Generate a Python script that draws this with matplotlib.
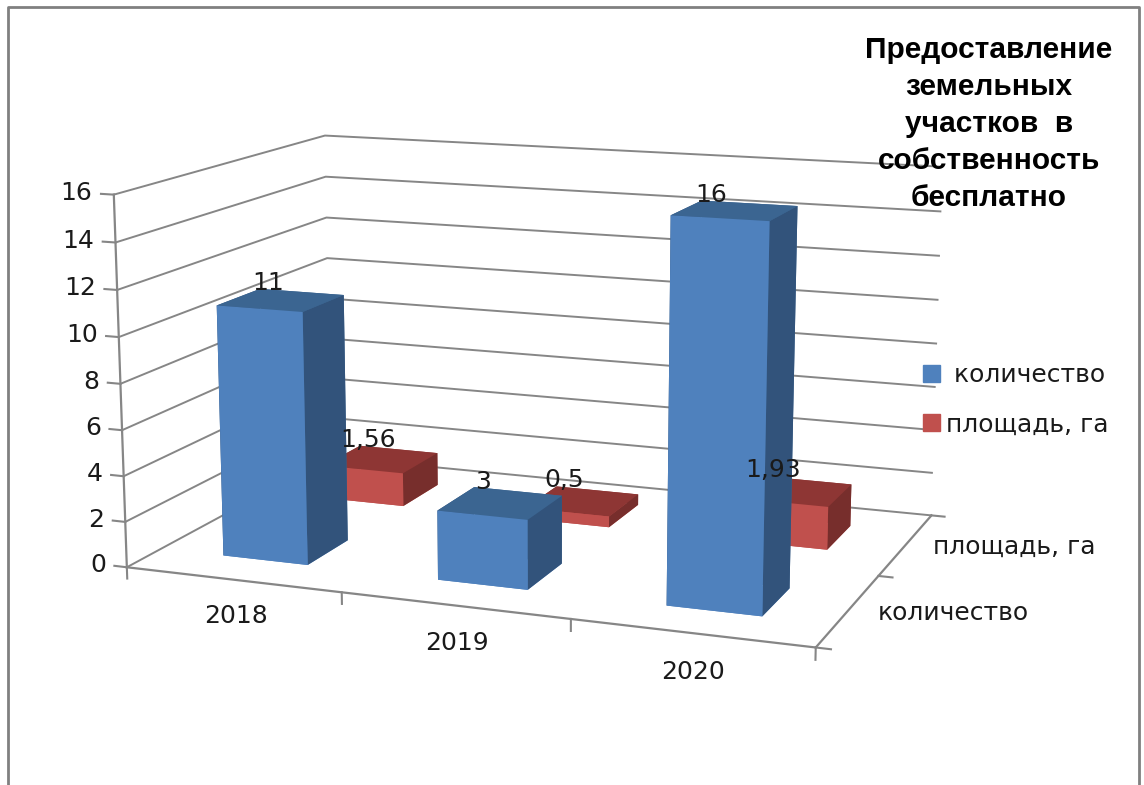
import numpy as np
import matplotlib
matplotlib.use('Agg')
import matplotlib.pyplot as plt
from matplotlib.lines import Line2D
from matplotlib.patches import Patch

years = ['2018', '2019', '2020']
series = ['количество', 'площадь, га']
kolichestvo = [11, 3, 16]
ploshad = [1.56, 0.5, 1.93]
labels_kol = ['11', '3', '16']
labels_pl = ['1,56', '0,5', '1,93']
zticks = [0, 2, 4, 6, 8, 10, 12, 14, 16]
title = 'Предоставление\nземельных\nучастков  в\nсобственность\nбесплатно'

GRAY = '#868686'
TXT = '#1a1a1a'
FS = 18
W, H = 1144, 785
plt.rcParams['font.family'] = ['DejaVu Sans']
fig = plt.figure(figsize=(W/100, H/100), dpi=100)
size = 888
cx, cy = 531, 375
ax = fig.add_axes([(cx-size/2)/W, (H-cy-size/2)/H, size/W, size/H], projection='3d')
ax.patch.set_alpha(0)
ax.set_proj_type('persp', focal_length=0.55)
ax.view_init(elev=12.3, azim=-69.2)
ax.set_box_aspect((1, 0.67, 0.53))

# faces: bottom, top, front, back, left, right
blue = ['#4F81BD', '#3B6591', '#4F81BD', '#3B6591', '#32537B', '#32537B']
red = ['#C0504D', '#8E3634', '#C0504D', '#8E3634', '#772E2C', '#772E2C']
xs, ys, dz, cols = [], [], [], []
for i in range(3):
    xs += [i+0.3, i+0.3]
    ys += [0.3, 1.3]
    dz += [kolichestvo[i], ploshad[i]]
    cols += blue + red
ax.bar3d(xs, ys, np.zeros(6), 0.4, 0.4, dz, color=cols, shade=False, linewidth=0, edgecolor='none')

ax.set_xlim(0, 3, view_margin=0)
ax.set_ylim(0, 2, view_margin=0)
ax.set_zlim(0, 16, view_margin=0)
ax.set_xticks([])
ax.set_yticks([])
ax.set_zticks(zticks)
ax.zaxis.set_ticks_position('lower')
ax.zaxis.set_tick_params(label1On=False, label2On=False)

for a in (ax.xaxis, ax.yaxis, ax.zaxis):
    a.set_pane_color((1, 1, 1, 0))
    a.pane.set_edgecolor((1, 1, 1, 0))
    a.line.set_color(GRAY)
    a.line.set_linewidth(1.6)
    a._axinfo['tick']['inward_factor'] = 0
    a._axinfo['tick']['outward_factor'] = 0
    a._axinfo['grid']['color'] = GRAY
    a._axinfo['grid']['linewidth'] = 1.4
    # пустые подписи осей не нужны
    a.label.set_visible(False)
    a.offsetText.set_visible(False)
    for t in a.get_major_ticks():
        t.label1.set_visible(False)
        t.label2.set_visible(False)

# засечки как в excel: вниз по x, вбок по y и z
for i in range(4):
    ax.plot([i, i], [0, 0], [0, -0.5], color=GRAY, lw=1.5)
for j in range(3):
    ax.plot([3, 3.06], [j, j], [0, 0], color=GRAY, lw=1.5)
for z in zticks:
    ax.plot([0, -0.06], [0, 0], [z, z], color=GRAY, lw=1.5)
    ax.text(-0.1, 0, z, str(z), fontsize=FS, ha='right', va='center', color=TXT)

for i in range(3):
    ax.text(i+0.51, 0, -1.6, years[i], fontsize=FS, ha='center', va='center', color=TXT)
    ax.text(i+0.34, 0.7, kolichestvo[i]-0.25, labels_kol[i], fontsize=FS, ha='center', va='bottom', color=TXT, zorder=50)
    ax.text(i+0.34, 1.7, ploshad[i]-0.25, labels_pl[i], fontsize=FS, ha='center', va='bottom', color=TXT, zorder=50)
for j in range(2):
    ax.text(3.12, j+0.5, 0, series[j], fontsize=FS, ha='left', va='center', color=TXT)

fig.text(989/W, 1-124/H, title, fontfamily='Liberation Sans', fontweight='bold', fontsize=21.5,
         ha='center', va='center', linespacing=1.4, color='black')

handles = [Patch(color='#4F81BD'), Patch(color='#C0504D')]
fig.legend(handles, [' количество', 'площадь, га'], loc='center left', bbox_to_anchor=(900/W, 1-400/H),
           frameon=False, fontsize=FS, handlelength=0.68, handleheight=0.68, labelspacing=1.0, handletextpad=0.28,
           labelcolor=TXT)

# рамка области диаграммы
fig.add_artist(Line2D([8/W, 8/W, 1139/W, 1139/W], [0, 1-7/H, 1-7/H, 0], color='#808080', lw=2))

fig.savefig('out.png', dpi=100, facecolor='white')
